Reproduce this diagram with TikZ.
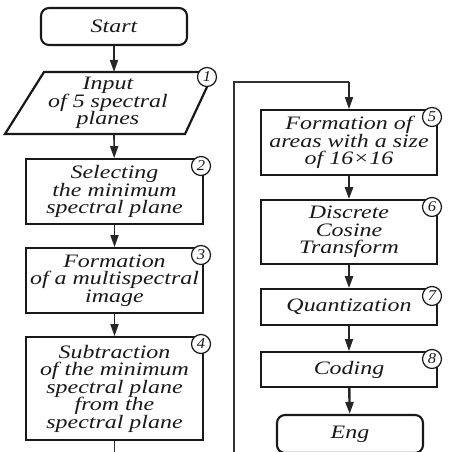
\documentclass[tikz,border=0pt]{standalone}
\usepackage{fontspec}
\newfontfamily\dfont{Liberation Serif}[FakeStretch=1.26]
\newfontfamily\nfont{Liberation Serif}[FakeStretch=1.1]
\usetikzlibrary{arrows.meta}
\begin{document}
\begin{tikzpicture}[x=1pt,y=-1pt,
  every node/.style={font=\dfont\itshape\fontsize{19}{17.5}\selectfont, align=center, inner sep=0pt, text=black!90},
  procbox/.style={draw=black!90, line width=1.7pt, rectangle},
  termbox/.style={draw=black!90, line width=2.1pt, rectangle, rounded corners=8pt},
  numc/.style={draw=black!90, line width=1.2pt, circle, fill=white, minimum size=19pt,
    font=\nfont\itshape\fontsize{15}{15}\selectfont},
  flow/.style={draw=black!85, line width=1.6pt, -{Triangle[length=12pt,width=8pt]}},
  flowthick/.style={draw=black!85, line width=2.4pt, -{Triangle[length=12pt,width=8pt]}},
  link/.style={draw=black!80, line width=1.3pt}
]
\useasboundingbox (0,0) rectangle (449,452);
\clip (0,0) rectangle (449,452);

% left column
\node[termbox, minimum width=146pt, minimum height=37pt] (start) at (114,26.5) {Start};
\draw[draw=black!90, line width=2.2pt, line join=miter] (44,72) -- (214,72) -- (185,134) -- (5,134) -- cycle;
\node (input) at (108,103) {Input\\of 5 spectral\\planes};
\coordinate (inT) at (114,72);
\coordinate (inB) at (114,134);
\node[procbox, minimum width=177pt, minimum height=65pt] (sel) at (114.5,191.5) {Selecting\\the minimum\\spectral plane};
\node[procbox, minimum width=177pt, minimum height=65pt] (form) at (114.5,280.5) {Formation\\of a multispectral\\image};
\node[procbox, minimum width=177pt, minimum height=103pt] (sub) at (114.5,388.5) {Subtraction\\of the minimum\\spectral plane\\from the\\spectral plane};
\coordinate (leftend) at (114.5,455);

% right column
\node[procbox, minimum width=176pt, minimum height=65pt] (b5) at (349,142.5) {Formation of\\areas with a size\\of 16\texttimes16};
\node[procbox, minimum width=176pt, minimum height=64pt] (b6) at (349,232) {Discrete\\Cosine\\Transform};
\node[procbox, minimum width=176pt, minimum height=36pt] (b7) at (349,307) {Quantization};
\node[procbox, minimum width=176pt, minimum height=35pt] (b8) at (349,369.5) {Coding};
\node[termbox, minimum width=146pt, minimum height=38pt] (eng) at (350,434) {Eng};
\coordinate (rightstart) at (234,455);
\coordinate (turn) at (349,82);

% connectors
\draw[flow] (start) -- (inT);
\draw[flow] (inB) -- (sel);
\draw[flow] (sel) -- (form);
\draw[flow] (form) -- (sub);
\draw[link, line width=1.6pt] (sub) -- (leftend);
\draw[link] (rightstart) |- (turn);
\draw[flow] (turn) -- (b5);
\draw[flowthick] (b5) -- (b6);
\draw[flowthick] (b6) -- (b7);
\draw[flow] (b7) -- (b8);
\draw[flowthick] (b8) -- (eng);

% step numbers
\node[numc] (n1) at (207,77) {1};
\node[numc] (n2) at (201,166) {2};
\node[numc] (n3) at (201,255) {3};
\node[numc] (n4) at (201,344) {4};
\node[numc] (n5) at (432,117) {5};
\node[numc] (n6) at (432,207) {6};
\node[numc] (n7) at (432,296) {7};
\node[numc] (n8) at (432,359) {8};
\end{tikzpicture}
\end{document}
